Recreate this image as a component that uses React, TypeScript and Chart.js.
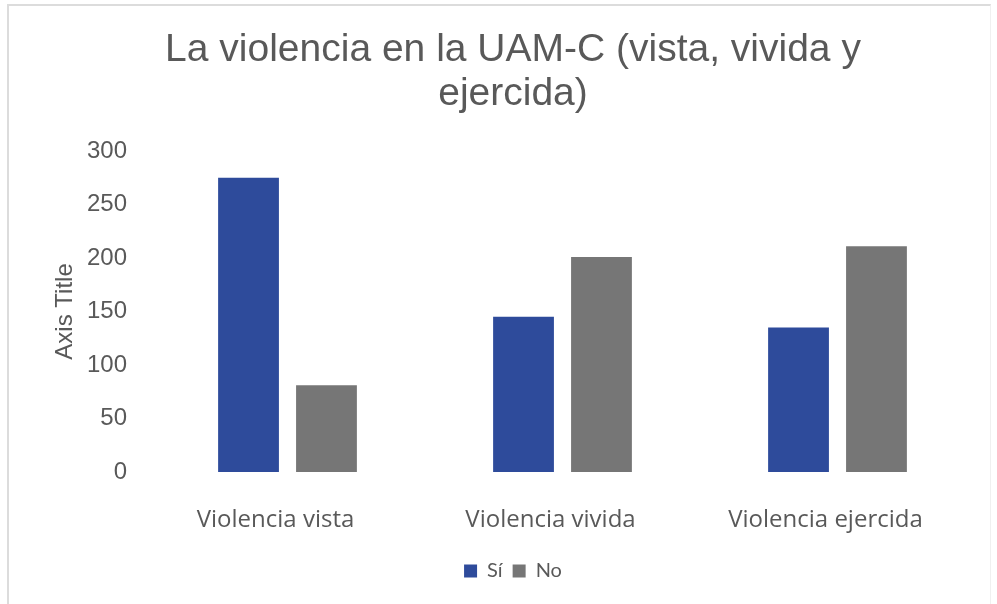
import React, { useEffect, useRef } from "react";
import { Chart, registerables } from "chart.js";

Chart.register(...registerables);

const categories = ["Violencia vista", "Violencia vivida", "Violencia ejercida"];
const siValues = [275, 145, 135];
const noValues = [81, 201, 211];
const titleLines = ["La violencia en la UAM-C (vista, vivida y", "ejercida)"];
const yTitle = "Axis Title";

export default function App() {
  const ref = useRef<HTMLCanvasElement | null>(null);

  useEffect(() => {
    if (!ref.current) return;
    const chart = new Chart(ref.current, {
      type: "bar",
      data: {
        labels: categories,
        datasets: [
          { label: "Sí", data: siValues, backgroundColor: "#2E4B9B", borderWidth: 0 },
          { label: "No", data: noValues, backgroundColor: "#767676", borderWidth: 0 },
        ],
      },
      options: {
        responsive: false,
        animation: false,
        layout: { padding: { left: 51, right: 22, top: 0, bottom: 13 } },
        datasets: { bar: { categoryPercentage: 0.567, barPercentage: 0.78 } },
        plugins: {
          tooltip: { enabled: false },
          title: {
            display: true,
            text: titleLines,
            color: "#595959",
            font: { family: "'Liberation Sans', Arial, sans-serif", size: 39, weight: "normal", lineHeight: 1.14 },
            padding: { top: 28, bottom: 34 },
          },
          legend: {
            display: true,
            position: "bottom",
            labels: {
              color: "#595959",
              boxWidth: 13,
              boxHeight: 13,
              padding: 10,
              font: { family: "Lato, 'Liberation Sans', sans-serif", size: 20 },
            },
          },
        },
        scales: {
          x: {
            grid: { display: false, drawTicks: false },
            border: { display: false },
            ticks: {
              color: "#595959",
              padding: 34,
              labelOffset: -12,
              font: { family: "'Open Sans', Lato, sans-serif", size: 24 },
            },
            afterFit: (scale: any) => {
              scale.height = 79;
            },
          },
          y: {
            min: 0,
            max: 300,
            grid: { display: false, drawTicks: false },
            border: { display: false },
            ticks: {
              stepSize: 50,
              color: "#595959",
              padding: 23,
              font: { family: "'Liberation Sans', Arial, sans-serif", size: 24 },
            },
            title: {
              display: true,
              text: yTitle,
              color: "#595959",
              padding: { top: 0, bottom: 0 },
              font: { family: "'Liberation Sans', Arial, sans-serif", size: 24, lineHeight: 1.2 },
            },
            afterFit: (scale: any) => {
              scale.width = 99;
            },
          },
        },
      },
    });
    return () => chart.destroy();
  }, []);

  return (
    <div style={{ position: "absolute", left: 0, top: 0, width: 997, height: 604, background: "#fff" }}>
      <div
        style={{
          position: "absolute",
          left: 7,
          top: 4,
          width: 984,
          height: 600,
          borderTop: "2px solid #dcdcdc",
          borderLeft: "2px solid #dcdcdc",
          borderRight: "1px solid #f0f0f0",
          boxSizing: "border-box",
        }}
      />
      <canvas ref={ref} width={997} height={604} style={{ position: "absolute", left: 0, top: 0 }} />
    </div>
  );
}
